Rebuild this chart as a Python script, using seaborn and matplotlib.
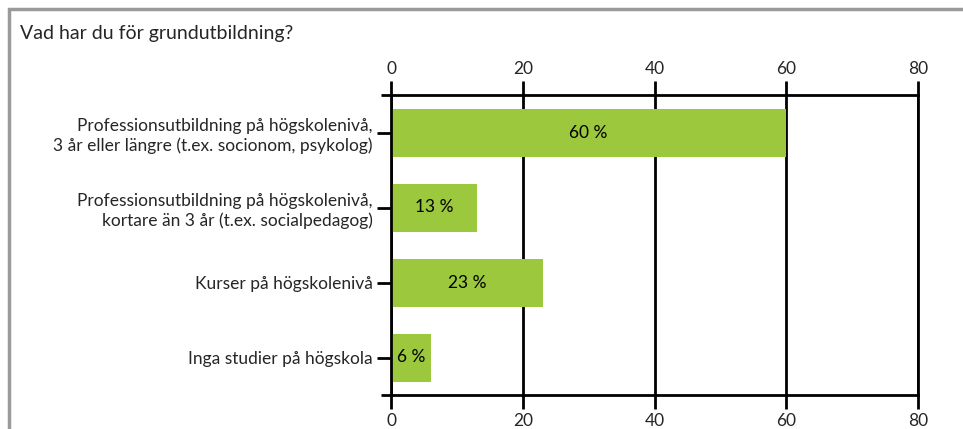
import matplotlib
matplotlib.use('Agg')
import matplotlib.pyplot as plt
import seaborn as sns
import pandas as pd
from matplotlib.patches import Rectangle

# data
categories = [
    'Professionsutbildning på högskolenivå,\n3 år eller längre (t.ex. socionom, psykolog)',
    'Professionsutbildning på högskolenivå,\nkortare än 3 år (t.ex. socialpedagog)',
    'Kurser på högskolenivå',
    'Inga studier på högskola',
]
values = [60, 13, 23, 6]
x_ticks = [0, 20, 40, 60, 80]
title = 'Vad har du för grundutbildning?'

sns.set_theme(style='white')
plt.rcParams['font.family'] = ['Lato', 'DejaVu Sans']

df = pd.DataFrame({'kategori': categories, 'andel': values})

fig = plt.figure(figsize=(9.63, 4.29), dpi=100)
ax = fig.add_axes([391 / 963, 1 - 395 / 429, 527 / 963, 300 / 429])

sns.barplot(
    data=df, x='andel', y='kategori',
    orient='h', color='#9BC83C', saturation=1,
    width=0.64, linewidth=0, ax=ax
)

ax.set_xlim(0, 80)
ax.set_ylim(3.5, -0.5)
ax.set_xticks(x_ticks)
ax.set_xlabel('')
ax.set_ylabel('')

# gridlines / ticks top and bottom
ax.grid(False)
for x in x_ticks:
    ax.axvline(x, color='black', lw=2, zorder=0.5)
ax.tick_params(axis='x', which='both', top=True, bottom=True,
               labeltop=True, labelbottom=True, direction='out',
               length=10, width=2, color='black', labelsize=12.5, pad=3)
ax.tick_params(axis='y', left=True, direction='out', length=10, width=2,
               color='black', labelsize=12.5, pad=3)
for lbl in ax.get_yticklabels():
    lbl.set_horizontalalignment('right')
    lbl.set_multialignment('right')
    lbl.set_linespacing(1.25)

for side in ['top', 'bottom', 'left', 'right']:
    ax.spines[side].set_color('black')
    ax.spines[side].set_linewidth(2)

# extend top and bottom axis lines to the left like the original
for yy in [0, 1]:
    ax.plot([-10 / 527, 0], [yy, yy], transform=ax.transAxes,
            color='black', lw=2, clip_on=False, solid_capstyle='butt')

# value labels
for i, v in enumerate(values):
    ax.text(v / 2, i, f'{v} %', ha='center', va='center',
            fontsize=12.5, color='black')

fig.text(20 / 963, 1 - 33 / 429, title, ha='left', va='center', fontsize=14)

# outer grey frame, clipped by image edges
fig.patches.append(Rectangle((9 / 963, -0.1), 1.2, 1 - 9 / 429 + 0.1,
                             transform=fig.transFigure, fill=False,
                             edgecolor='#9a9a9a', lw=2.5))

fig.savefig('out.png', dpi=100)
